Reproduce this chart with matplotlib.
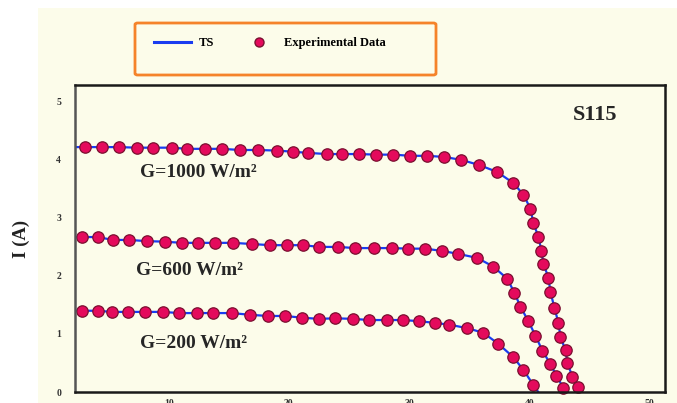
import matplotlib.pyplot as plt
from matplotlib.patches import Rectangle, FancyBboxPatch
from matplotlib.lines import Line2D

# I-V measurements of the S115 module at three irradiance levels
v_1000 = [3.02, 4.43, 5.85, 7.35, 8.68, 10.27, 11.52, 13.02, 14.43, 15.93, 17.43,
          19.02, 20.35, 21.60, 23.18, 24.43, 25.85, 27.27, 28.68, 30.10, 31.52,
          32.93, 34.35, 35.85, 37.35, 38.68, 39.52, 40.10, 40.35, 40.77, 41.02,
          41.18, 41.60, 41.77, 42.10, 42.43, 42.60, 43.02, 43.18, 43.60, 44.02]
i_1000 = [4.22, 4.22, 4.22, 4.21, 4.21, 4.21, 4.19, 4.19, 4.19, 4.17, 4.17,
          4.16, 4.14, 4.12, 4.10, 4.10, 4.10, 4.09, 4.09, 4.07, 4.07,
          4.05, 4.00, 3.91, 3.79, 3.60, 3.40, 3.16, 2.91, 2.67, 2.43,
          2.21, 1.97, 1.72, 1.45, 1.19, 0.95, 0.72, 0.50, 0.26, 0.09]

v_600 = [2.77, 4.10, 5.35, 6.68, 8.18, 9.68, 11.10, 12.43, 13.85, 15.35, 16.93,
         18.43, 19.85, 21.18, 22.52, 24.10, 25.52, 27.10, 28.60, 29.93, 31.35,
         32.77, 34.10, 35.68, 37.02, 38.18, 38.77, 39.27, 39.93, 40.52, 41.10,
         41.77, 42.27, 42.85]
i_600 = [2.67, 2.67, 2.62, 2.62, 2.60, 2.59, 2.57, 2.57, 2.57, 2.57, 2.55,
         2.53, 2.53, 2.53, 2.50, 2.50, 2.48, 2.48, 2.48, 2.47, 2.47,
         2.43, 2.38, 2.31, 2.16, 1.95, 1.71, 1.47, 1.22, 0.97, 0.71,
         0.48, 0.28, 0.07]

v_200 = [2.77, 4.10, 5.27, 6.60, 8.02, 9.52, 10.85, 12.35, 13.68, 15.27, 16.77,
         18.27, 19.68, 21.10, 22.52, 23.85, 25.35, 26.68, 28.18, 29.52, 30.85,
         32.18, 33.35, 34.85, 36.18, 37.43, 38.68, 39.52, 40.35]
i_200 = [1.40, 1.40, 1.38, 1.38, 1.38, 1.38, 1.36, 1.36, 1.36, 1.36, 1.33,
         1.31, 1.31, 1.28, 1.26, 1.27, 1.26, 1.24, 1.24, 1.24, 1.22,
         1.19, 1.16, 1.10, 1.02, 0.83, 0.60, 0.38, 0.12]

# open-circuit voltages where the TS model reaches zero current
voc = [44.25, 43.05, 40.75]
labels = ['G=1000 W/m²', 'G=600 W/m²', 'G=200 W/m²']
label_pos = [(7.6, 3.78), (7.3, 2.10), (7.6, 0.84)]
v_min, v_max = 2.2, 51.3

serif = ['Liberation Serif', 'DejaVu Serif']
cream = '#fcfcea'
pink = '#e40a5c'

fig = plt.figure(figsize=(6.77, 4.03), dpi=100)
fig.patch.set_facecolor('white')
fig.patches.append(Rectangle((38 / 677, 0), 1 - 38 / 677, 395 / 403,
                             transform=fig.transFigure, facecolor=cream,
                             edgecolor='none', zorder=-5))

ax = fig.add_axes([75 / 677, 11 / 403, 590 / 677, 307 / 403])
ax.set_facecolor(cream)

curves = [(v_1000, i_1000), (v_600, i_600), (v_200, i_200)]
for (v, i), vo in zip(curves, voc):
    ts_v = [v_min] + v + [vo]
    ts_i = [i[0]] + i + [0]
    ax.plot(ts_v, ts_i, color='#1a3cf0', lw=1.6, zorder=2)
    ax.plot(v, i, 'o', ms=8.2, mfc=pink, mec='#7a1030', mew=0.9, zorder=3,
            clip_on=False)

for txt, (x, y) in zip(labels, label_pos):
    ax.text(x, y, txt, family=serif, fontweight='bold', fontsize=14,
            color='#262626', ha='left', va='center')
ax.text(43.6, 4.78, 'S115', family=serif, fontweight='bold', fontsize=16,
        color='#262626', ha='left', va='center')

ax.set_xlim(v_min, v_max)
ax.set_ylim(0, 5.29)
ax.set_xticks([10, 20, 30, 40, 50])
ax.set_yticks([0, 1, 2, 3, 4, 5])
ax.tick_params(length=0, labelsize=7, labelcolor='#333333')
ax.tick_params(axis='x', pad=5)
ax.tick_params(axis='y', pad=10)
for lab in ax.get_xticklabels() + ax.get_yticklabels():
    lab.set_family(serif)
    lab.set_fontweight('bold')

for side in ['left', 'bottom', 'right', 'top']:
    ax.spines[side].set_linewidth(1.8)
    ax.spines[side].set_color('#1a1a1a')
    ax.spines[side].set_zorder(4)
ax.spines['left'].set_color('#555555')

ax.set_ylabel('I (A)', family=serif, fontweight='bold', fontsize=13.5,
              labelpad=19, color='#222222')

# legend frame
fig.patches.append(FancyBboxPatch((135 / 677, 328 / 403), 301 / 677, 52 / 403,
                                  boxstyle='round,pad=0,rounding_size=0.004',
                                  transform=fig.transFigure, facecolor=cream,
                                  edgecolor='#f5832a', lw=2, zorder=1))
handles = [Line2D([], [], color='#1a3cf0', lw=2.2),
           Line2D([], [], ls='none', marker='o', ms=6.5, mfc=pink, mec='#7a1030')]
leg = fig.legend(handles, ['TS', 'Experimental Data'], ncol=2, frameon=False,
                 loc='center', bbox_to_anchor=(270 / 677, 360 / 403),
                 handlelength=3.0, handletextpad=0.55, columnspacing=2.1,
                 prop={'family': serif, 'weight': 'bold', 'size': 9})
leg.set_zorder(3)

fig.savefig('out.png', dpi=100, facecolor=fig.get_facecolor())
